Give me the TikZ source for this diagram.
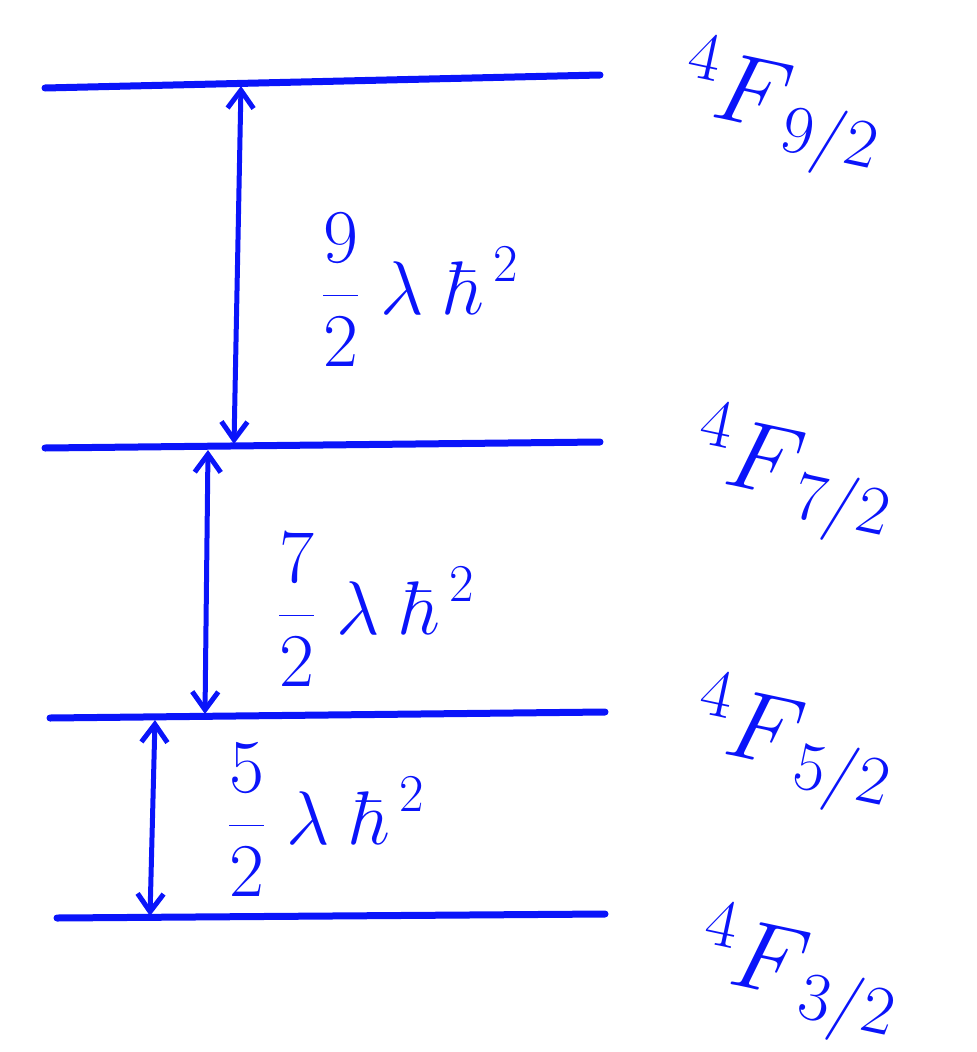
\RequirePackage{fix-cm}
\documentclass[tikz,border=0pt]{standalone}
\usepackage{amsmath}
\usetikzlibrary{arrows.meta}

\definecolor{pen}{RGB}{10,20,250}

\tikzset{
  level/.style={line width=7pt,line cap=round,pen},
  gap/.style={line width=5pt,line cap=round,pen,{Straight Barb[length=18pt,width=26pt,line width=5pt]}-{Straight Barb[length=18pt,width=26pt,line width=5pt]}},
  term/.style={anchor=west,inner sep=0pt,text=pen,rotate=-12,font=\fontsize{98}{106}\selectfont},
  split/.style={anchor=west,inner sep=0pt,text=pen,font=\fontsize{76}{84}\selectfont}
}

\begin{document}
\begin{tikzpicture}[x=1pt,y=-1pt]
\path[use as bounding box] (0,0) rectangle (977,1052);
% levels
\coordinate (a1) at (45,88);  \coordinate (a2) at (600,75);
\coordinate (b1) at (45,448); \coordinate (b2) at (600,442);
\coordinate (c1) at (50,718); \coordinate (c2) at (605,712);
\coordinate (d1) at (57,918); \coordinate (d2) at (605,914);
\draw[level] (a1) -- (a2);
\draw[level] (b1) -- (b2);
\draw[level] (c1) -- (c2);
\draw[level] (d1) -- (d2);
% splittings
\coordinate (ua) at (241,86);  \coordinate (ub) at (234,444);
\coordinate (va) at (208,450); \coordinate (vb) at (205,714);
\coordinate (wa) at (155,720); \coordinate (wb) at (150,916);
\draw[gap] (ua) -- (ub);
\draw[gap] (va) -- (vb);
\draw[gap] (wa) -- (wb);
\node[split] (s9) at (322,290) {$\dfrac{9}{2}\;\lambda\;\hbar^{\,2}$};
\node[split] (s7) at (278,610) {$\dfrac{7}{2}\;\lambda\;\hbar^{\,2}$};
\node[split] (s5) at (228,820) {$\dfrac{5}{2}\;\lambda\;\hbar^{\,2}$};
% terms
\node[term] (t9) at (683,88)  {$^{4}F_{\,9/2}$};
\node[term] (t7) at (695,455) {$^{4}F_{\,7/2}$};
\node[term] (t5) at (695,725) {$^{4}F_{\,5/2}$};
\node[term] (t3) at (700,955) {$^{4}F_{\,3/2}$};
\end{tikzpicture}
\end{document}
